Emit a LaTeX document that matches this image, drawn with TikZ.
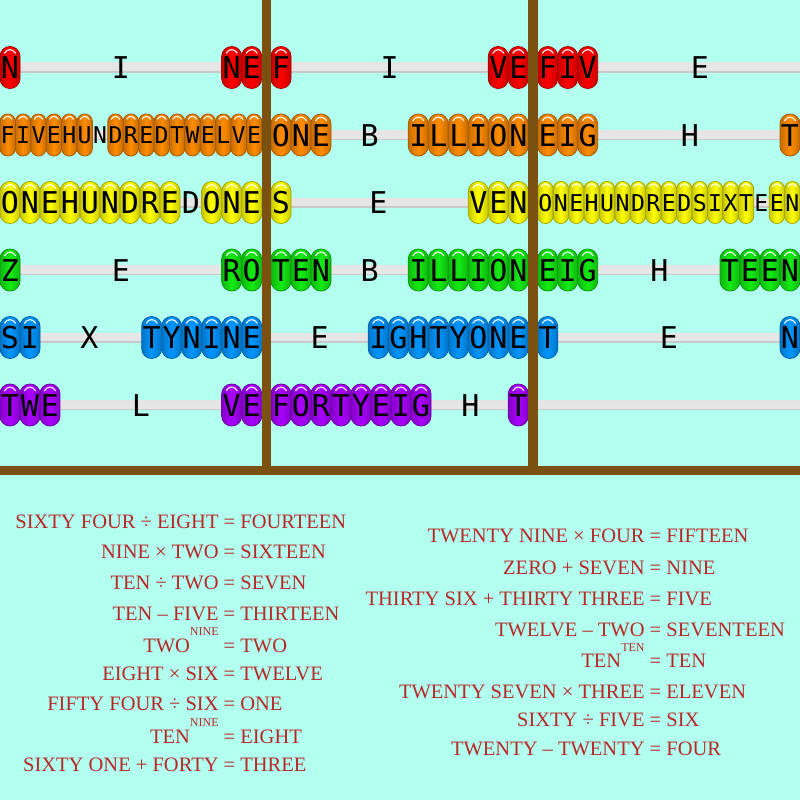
\documentclass[tikz,border=0pt]{standalone}
\usepackage{fontspec}
\setmainfont{Liberation Serif}
\newfontfamily\beadfont{DejaVu Sans Mono}
\definecolor{bg}{RGB}{178,255,240}
\definecolor{wood}{RGB}{122,81,17}
\definecolor{eqred}{RGB}{183,40,40}
\definecolor{bred}{RGB}{255,0,0}
\definecolor{borange}{RGB}{255,140,0}
\definecolor{byellow}{RGB}{255,255,0}
\definecolor{bgreen}{RGB}{20,235,20}
\definecolor{bblue}{RGB}{0,150,255}
\definecolor{bpurple}{RGB}{170,0,255}
\definecolor{rodfill}{RGB}{230,230,230}
\definecolor{rodedge}{RGB}{200,200,200}
\tikzset{
  beadtxt/.style={anchor=base, inner sep=0pt, text=black},
  eqtxt/.style={anchor=base, inner sep=0pt, text=eqred, font=\fontsize{20.5pt}{20.5pt}\selectfont},
}
\newcommand\supr[1]{\raisebox{16.5pt}{\fontsize{12pt}{12pt}\selectfont #1}}
\newcommand\beadgroup[6]{%
  \foreach \l [count=\i] in {#6} {%
    \pgfmathsetmacro\cx{#4+(\i-0.5)*#5}%
    \pgfmathsetmacro\xa{\cx-#5/2}%
    \pgfmathsetmacro\xb{\cx+#5/2}%
    \pgfmathsetmacro\rr{#5/2-0.1}%
    \pgfmathsetmacro\fs{1.5*#5}%
    \pgfmathsetmacro\by{#2+0.38*\fs}%
    \path[draw=#3!65!black, line width=0.8pt, left color=#3!78!black, right color=#3!78!black, middle color=#3, rounded corners=\rr pt] (\xa,#2-21) rectangle (\xb,#2+21);
    \draw[white, opacity=0.85, line width=1.3pt, line cap=round] (\cx-0.27*#5,#2-21+0.33*#5) .. controls (\cx-0.15*#5,#2-21+0.1*#5) and (\cx+0.15*#5,#2-21+0.1*#5) .. (\cx+0.27*#5,#2-21+0.33*#5);
    \node[beadtxt, font=\beadfont\fontsize{\fs pt}{\fs pt}\selectfont] (#1-\i) at (\cx,\by) {\l};
  }%
}
\newcommand\midletter[5]{%
  \pgfmathsetmacro\fs{1.5*#4}%
  \pgfmathsetmacro\by{#3+0.38*\fs}%
  \node[beadtxt, font=\beadfont\fontsize{\fs pt}{\fs pt}\selectfont] (#1) at (#2,\by) {#5};
}
\begin{document}
\begin{tikzpicture}[x=1pt,y=-1pt]
\useasboundingbox (0,0) rectangle (800,800);
\fill[bg] (0,0) rectangle (800,800);
% rods
\foreach \y in {67.5,135,202.5,270,337.5,405} {
  \fill[rodfill] (0,\y-5) rectangle (800,\y+5);
  \draw[rodedge, line width=1.2pt] (0,\y+4.4) -- (800,\y+4.4);
  \draw[gray!22, line width=0.8pt] (0,\y-4.6) -- (800,\y-4.6);
}
% row 1
\beadgroup{r1a}{67.5}{bred}{0}{20}{N}
\midletter{r1am}{120.85}{67.5}{20}{I}
\beadgroup{r1b}{67.5}{bred}{221.7}{20}{N,E}
\beadgroup{r1c}{67.5}{bred}{271}{20}{F}
\midletter{r1cm}{389.65}{67.5}{20}{I}
\beadgroup{r1d}{67.5}{bred}{488.3}{20}{V,E}
\beadgroup{r1e}{67.5}{bred}{537.7}{20}{F,I,V}
\midletter{r1em}{700}{67.5}{20}{E}
% row 2
\beadgroup{r2a}{135}{borange}{0}{15.4}{F,I,V,E,H,U}
\midletter{r2am}{100.1}{135}{15.4}{N}
\beadgroup{r2b}{135}{borange}{107.8}{15.4}{D,R,E,D,T,W,E,L,V,E}
\beadgroup{r2c}{135}{borange}{271}{20}{O,N,E}
\midletter{r2cm}{369.65}{135}{20}{B}
\beadgroup{r2d}{135}{borange}{408.3}{20}{I,L,L,I,O,N}
\beadgroup{r2e}{135}{borange}{537.7}{20}{E,I,G}
\midletter{r2em}{690}{135}{20}{H}
\beadgroup{r2f}{135}{borange}{780}{20}{T}
% row 3
\beadgroup{r3a}{202.5}{byellow}{0}{20}{O,N,E,H,U,N,D,R,E}
\midletter{r3am}{190.85}{202.5}{20}{D}
\beadgroup{r3b}{202.5}{byellow}{201.7}{20}{O,N,E}
\beadgroup{r3c}{202.5}{byellow}{271}{20}{S}
\midletter{r3cm}{378.5}{202.5}{20}{E}
\beadgroup{r3d}{202.5}{byellow}{468.3}{20}{V,E,N}
\beadgroup{r3e}{202.5}{byellow}{537.7}{15.43}{O,N,E,H,U,N,D,R,E,D,S,I,X,T}
\midletter{r3em}{761.4}{202.5}{15.43}{E}
\beadgroup{r3f}{202.5}{byellow}{769.14}{15.43}{E,N}
% row 4
\beadgroup{r4a}{270}{bgreen}{0}{20}{Z}
\midletter{r4am}{120.85}{270}{20}{E}
\beadgroup{r4b}{270}{bgreen}{221.7}{20}{R,O}
\beadgroup{r4c}{270}{bgreen}{271}{20}{T,E,N}
\midletter{r4cm}{369.65}{270}{20}{B}
\beadgroup{r4d}{270}{bgreen}{408.3}{20}{I,L,L,I,O,N}
\beadgroup{r4e}{270}{bgreen}{537.7}{20}{E,I,G}
\midletter{r4em}{659.5}{270}{20}{H}
\beadgroup{r4f}{270}{bgreen}{720}{20}{T,E,E,N}
% row 5
\beadgroup{r5a}{337.5}{bblue}{0}{20}{S,I}
\midletter{r5am}{89.5}{337.5}{20}{X}
\beadgroup{r5b}{337.5}{bblue}{141.7}{20}{T,Y,N,I,N,E}
\midletter{r5cm}{319.65}{337.5}{20}{E}
\beadgroup{r5d}{337.5}{bblue}{368.3}{20}{I,G,H,T,Y,O,N,E}
\beadgroup{r5e}{337.5}{bblue}{537.7}{20}{T}
\midletter{r5em}{668.85}{337.5}{20}{E}
\beadgroup{r5f}{337.5}{bblue}{780}{20}{N}
% row 6
\beadgroup{r6a}{405}{bpurple}{0}{20}{T,W,E}
\midletter{r6am}{140.85}{405}{20}{L}
\beadgroup{r6b}{405}{bpurple}{221.7}{20}{V,E}
\beadgroup{r6c}{405}{bpurple}{271}{20}{F,O,R,T,Y,E,I,G}
\midletter{r6cm}{470.5}{405}{20}{H}
\beadgroup{r6d}{405}{bpurple}{508.3}{20}{T}
% frame
\fill[wood] (261.7,0) rectangle (271,475);
\fill[wood] (528.3,0) rectangle (537.7,475);
\fill[wood] (0,466) rectangle (800,475);
% equations, left column
\node[eqtxt] (L1) at (229.5,528) {\llap{SIXTY FOUR ÷ EIGHT }=\rlap{ FOURTEEN}};
\node[eqtxt] (L2) at (229.5,558) {\llap{NINE × TWO }=\rlap{ SIXTEEN}};
\node[eqtxt] (L3) at (229.5,589) {\llap{TEN ÷ TWO }=\rlap{ SEVEN}};
\node[eqtxt] (L4) at (229.5,620) {\llap{TEN – FIVE }=\rlap{ THIRTEEN}};
\node[eqtxt] (L5) at (229.5,652) {\llap{TWO\supr{NINE} }=\rlap{ TWO}};
\node[eqtxt] (L6) at (229.5,680.5) {\llap{EIGHT × SIX }=\rlap{ TWELVE}};
\node[eqtxt] (L7) at (229.5,710) {\llap{FIFTY FOUR ÷ SIX }=\rlap{ ONE}};
\node[eqtxt] (L8) at (229.5,743) {\llap{TEN\supr{NINE} }=\rlap{ EIGHT}};
\node[eqtxt] (L9) at (229.5,771.5) {\llap{SIXTY ONE + FORTY }=\rlap{ THREE}};
% equations, right column
\node[eqtxt] (R1) at (655.5,542.5) {\llap{TWENTY NINE × FOUR }=\rlap{ FIFTEEN}};
\node[eqtxt] (R2) at (655.5,574) {\llap{ZERO + SEVEN }=\rlap{ NINE}};
\node[eqtxt] (R3) at (655.5,605) {\llap{THIRTY SIX + THIRTY THREE }=\rlap{ FIVE}};
\node[eqtxt] (R4) at (655.5,636) {\llap{TWELVE – TWO }=\rlap{ SEVENTEEN}};
\node[eqtxt] (R5) at (655.5,667.5) {\llap{TEN\supr{TEN} }=\rlap{ TEN}};
\node[eqtxt] (R6) at (655.5,698) {\llap{TWENTY SEVEN × THREE }=\rlap{ ELEVEN}};
\node[eqtxt] (R7) at (655.5,726.5) {\llap{SIXTY ÷ FIVE }=\rlap{ SIX}};
\node[eqtxt] (R8) at (655.5,755) {\llap{TWENTY – TWENTY }=\rlap{ FOUR}};
\end{tikzpicture}
\end{document}
